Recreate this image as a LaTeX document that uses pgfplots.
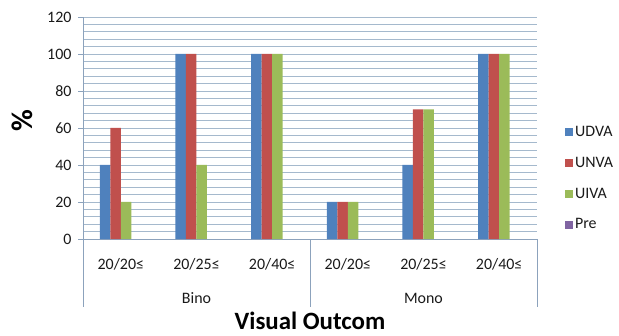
\documentclass[border=0pt]{standalone}
\usepackage{pgfplots}
\pgfplotsset{compat=1.18}
\usepackage{fontspec}
\setmainfont{Carlito}
\definecolor{cblue}{RGB}{79,129,189}
\definecolor{cred}{RGB}{192,80,77}
\definecolor{cgreen}{RGB}{155,187,89}
\definecolor{cpurple}{RGB}{128,100,162}
\definecolor{gridc}{RGB}{165,185,205}
\definecolor{axc}{RGB}{140,162,188}
\begin{document}
\begin{tikzpicture}
\path[use as bounding box] (0,0) rectangle (619bp,336bp);
\begin{axis}[
  at={(83bp,97bp)}, anchor=south west,
  scale only axis, width=454bp, height=222bp,
  xmin=-0.5, xmax=5.5, ymin=0, ymax=120,
  clip=false,
  ybar=0pt, bar width=10.5bp,
  legend image code/.code={\draw[#1,draw=none] (0bp,-4bp) rectangle (8bp,4bp);},
  ytick={0,20,...,120}, minor y tick num=4,
  ymajorgrids, yminorgrids,
  major grid style={gridc, line width=0.8bp},
  minor grid style={gridc, line width=0.8bp},
  axis x line*=bottom, axis y line*=left,
  axis line style={axc, line width=0.8bp},
  xtick={0,...,5},
  xticklabels={20/20≤,20/25≤,20/40≤,20/20≤,20/25≤,20/40≤},
  x tick style={draw=none},
  y tick style={axc, line width=0.8bp},
  tick align=outside, major tick length=5bp, minor tick length=0pt,
  /pgf/number format/assume math mode=true,
  tick label style={font=\fontsize{16}{19}\selectfont, text=black!90},
  xticklabel style={anchor=center, yshift=-20bp},
  yticklabel style={anchor=east, xshift=-3bp},
  legend style={at={(1.055,0.525)}, anchor=north west, draw=none, fill=none,
    font=\fontsize{16}{19}\selectfont, row sep=15bp, text=black!90},
  legend cell align=left,
]
\addplot[fill=cblue, draw=none, bar shift=-15.75bp] coordinates {(0,40) (1,100) (2,100) (3,20) (4,40) (5,100)};
\addlegendentry{UDVA}
\addplot[fill=cred, draw=none, bar shift=-5.25bp] coordinates {(0,60) (1,100) (2,100) (3,20) (4,70) (5,100)};
\addlegendentry{UNVA}
\addplot[fill=cgreen, draw=none, bar shift=5.25bp] coordinates {(0,20) (1,40) (2,100) (3,20) (4,70) (5,100)};
\addlegendentry{UIVA}
\addlegendimage{fill=cpurple}
\addlegendentry{Pre}
\draw[axc, line width=0.8bp] (axis cs:-0.5,0) -- ([yshift=-68bp]axis cs:-0.5,0);
\draw[axc, line width=0.8bp] (axis cs:2.5,0) -- ([yshift=-68bp]axis cs:2.5,0);
\draw[axc, line width=0.8bp] (axis cs:5.5,0) -- ([yshift=-68bp]axis cs:5.5,0);
\node[font=\fontsize{16}{19}\selectfont, text=black!90] at ([yshift=-59bp]axis cs:1,0) {Bino};
\node[font=\fontsize{16}{19}\selectfont, text=black!90] at ([yshift=-59bp]axis cs:4,0) {Mono};
\end{axis}
\node[rotate=90, font=\fontsize{30}{34}\selectfont\bfseries] at (22bp,215bp) {\%};
\node[anchor=base, inner sep=0pt, font=\fontsize{25}{30}\selectfont\bfseries] at (310bp,7bp) {Visual Outcom};
\end{tikzpicture}
\end{document}
